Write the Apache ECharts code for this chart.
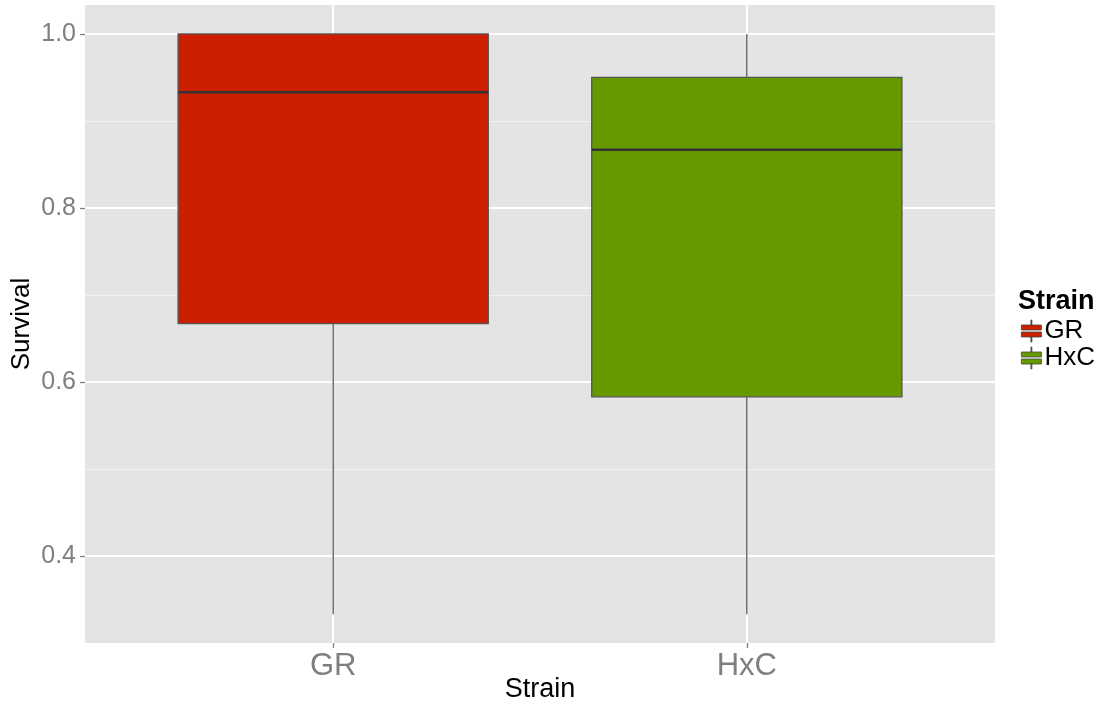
<!DOCTYPE html>
<html>
<head>
<meta charset="utf-8">
<script src="https://cdn.jsdelivr.net/npm/echarts@6/dist/echarts.min.js"></script>
<style>
html,body{margin:0;padding:0;background:#fff;}
#chart{width:1105px;height:702px;}
</style>
</head>
<body>
<div id="chart"></div>
<script>
const strains = ['GR', 'HxC'];
const whiskerLow = [0.333, 0.333];
const q1 = [0.667, 0.583];
const medians = [0.933, 0.867];
const q3 = [1.0, 0.95];
const whiskerHigh = [1.0, 1.0];
const strainColors = ['#cc1f00', '#669900'];
const yTicks = [0.4, 0.6, 0.8, 1.0];
const yMinorTicks = [0.5, 0.7, 0.9];
const xPositions = [1, 2];

const FONT = 'Liberation Sans, Arial, sans-serif';
const chart = echarts.init(document.getElementById('chart'));

function renderBox(params, api) {
  const x = api.value(0);
  const lo = api.coord([x, api.value(1)]);
  const b1 = api.coord([x, api.value(2)]);
  const md = api.coord([x, api.value(3)]);
  const b3 = api.coord([x, api.value(4)]);
  const hi = api.coord([x, api.value(5)]);
  const w = api.size([0.75, 0])[0];
  const color = api.visual('color');
  return {
    type: 'group',
    children: [
      { type: 'line', shape: { x1: lo[0], y1: lo[1], x2: b1[0], y2: b1[1] }, style: { stroke: '#555', lineWidth: 1.3 } },
      { type: 'line', shape: { x1: b3[0], y1: b3[1], x2: hi[0], y2: hi[1] }, style: { stroke: '#555', lineWidth: 1.3 } },
      { type: 'rect', shape: { x: b1[0] - w / 2, y: b3[1], width: w, height: b1[1] - b3[1] }, style: { fill: color, stroke: '#555', lineWidth: 1.3 } },
      { type: 'line', shape: { x1: md[0] - w / 2, y1: md[1], x2: md[0] + w / 2, y2: md[1] }, style: { stroke: '#333', lineWidth: 2.5 } }
    ]
  };
}

const series = strains.map((s, i) => ({
  name: s,
  type: 'custom',
  renderItem: renderBox,
  itemStyle: { color: strainColors[i] },
  encode: { x: 0, y: [1, 2, 3, 4, 5] },
  data: [[xPositions[i], whiskerLow[i], q1[i], medians[i], q3[i], whiskerHigh[i]]],
  z: 10
}));

const boxIcon = 'path://M1,5 L21,5 L21,10 L1,10 Z M1,12 L21,12 L21,17 L1,17 Z M10.5,0 L11.5,0 L11.5,5 L10.5,5 Z M10.5,17 L11.5,17 L11.5,22 L10.5,22 Z';

chart.setOption({
  backgroundColor: '#ffffff',
  animation: false,
  textStyle: { fontFamily: FONT },
  title: {
    text: 'Strain', left: 1013, top: 283,
    textStyle: { fontFamily: FONT, fontSize: 27, fontWeight: 'bold', color: '#000' }
  },
  legend: {
    orient: 'vertical', left: 1016, top: 313,
    itemWidth: 24, itemHeight: 22, itemGap: 1,
    icon: boxIcon,
    itemStyle: { borderColor: '#444', borderWidth: 0.8 },
    textStyle: { fontFamily: FONT, fontSize: 26, color: '#000', padding: [0, 0, 0, -4] },
    data: strains
  },
  grid: {
    left: 85, right: 110, top: 5, bottom: 59,
    outerBoundsMode: 'none', containLabel: false,
    show: true, backgroundColor: '#e4e4e4', borderWidth: 0
  },
  xAxis: {
    type: 'value', min: 0.4, max: 2.6,
    name: 'Strain', nameLocation: 'middle', nameGap: 33, nameMoveOverlap: false,
    nameTextStyle: { fontFamily: FONT, fontSize: 27, color: '#000' },
    axisLine: { show: false },
    axisTick: { show: true, customValues: xPositions, length: 5, lineStyle: { color: '#7f7f7f', width: 1.3 } },
    axisLabel: {
      customValues: xPositions, fontFamily: FONT, fontSize: 31, color: '#7f7f7f', margin: 8,
      formatter: v => strains[Math.round(v) - 1] || ''
    },
    splitLine: { show: true, lineStyle: { color: '#ffffff', width: 2 } }
  },
  yAxis: [{
    type: 'value', min: 0.3, max: 1.0333,
    name: 'Survival', nameLocation: 'middle', nameGap: 50, nameRotate: 90, nameMoveOverlap: false,
    nameTextStyle: { fontFamily: FONT, fontSize: 26, color: '#000' },
    axisLine: { show: false },
    axisTick: { show: true, customValues: yTicks, length: 5, lineStyle: { color: '#7f7f7f', width: 1.3 } },
    axisLabel: {
      customValues: yTicks, fontFamily: FONT, fontSize: 25, color: '#7f7f7f', margin: 9,
      formatter: v => v.toFixed(1)
    },
    splitLine: { show: true, lineStyle: { color: '#ffffff', width: 2 } }
  }, {
    type: 'value', min: 0.3, max: 1.0333, position: 'left',
    axisLine: { show: false },
    axisTick: { show: false, customValues: yMinorTicks },
    axisLabel: { show: false, customValues: yMinorTicks },
    splitLine: { show: true, lineStyle: { color: '#f2f2f2', width: 1 } }
  }],
  series: series
});
</script>
</body>
</html>
